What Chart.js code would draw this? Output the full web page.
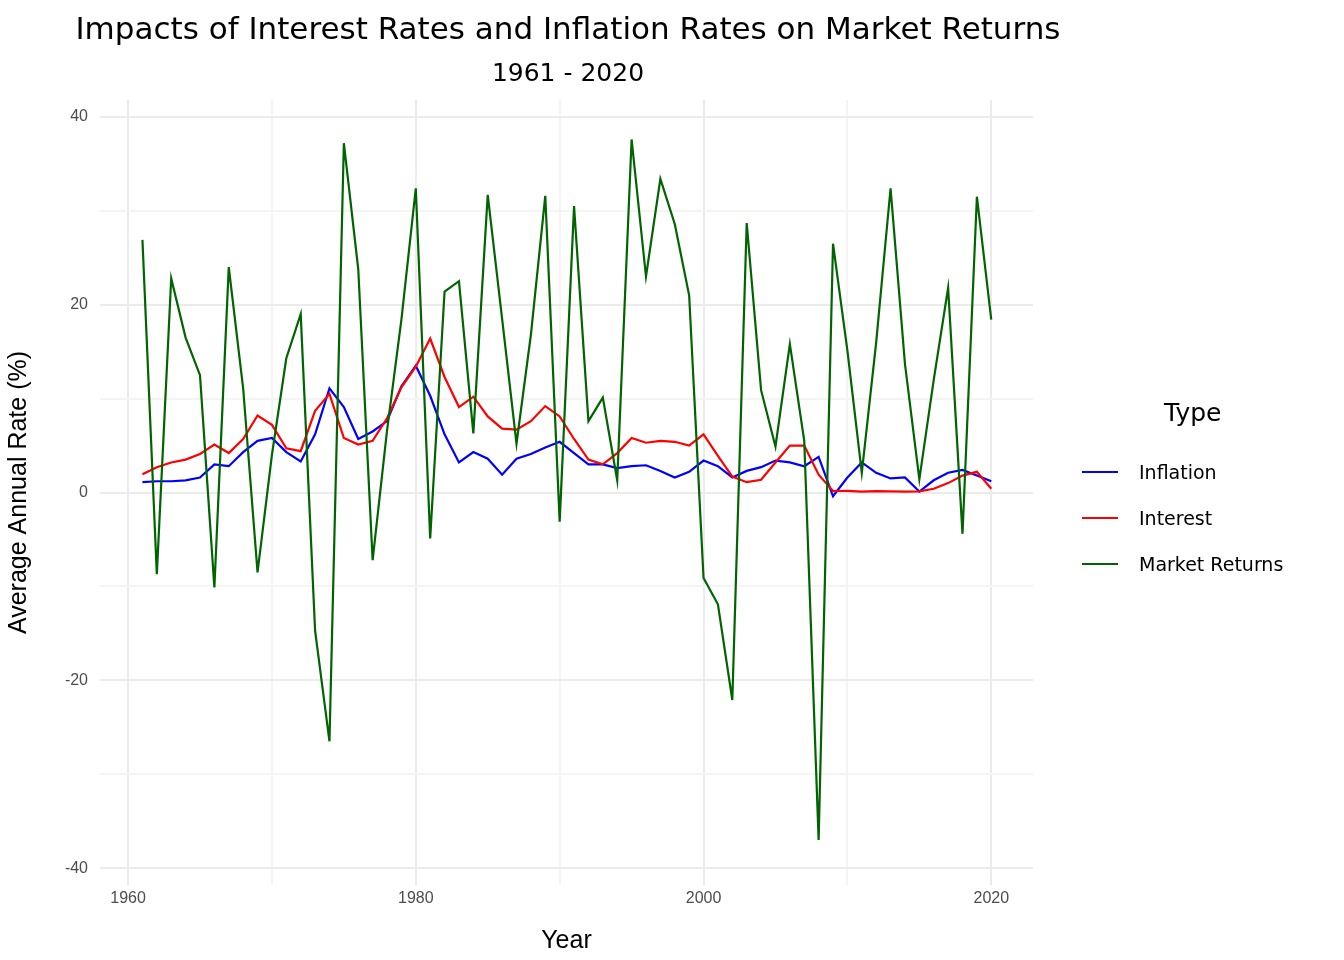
<!DOCTYPE html>
<html>
<head>
<meta charset="utf-8">
<script src="https://cdn.jsdelivr.net/npm/chart.js@4/dist/chart.umd.min.js"></script>
<style>
  body { margin: 0; background: #fff; font-family: "DejaVu Sans", sans-serif; }
  #wrap { position: relative; width: 1344px; height: 960px; }
  .t { position: absolute; left: 0; width: 1136px; text-align: center; color: #000; }
  #legend { position: absolute; left: 1082px; top: 398px; font-size: 19px; }
  #legend .ttl { font-size: 25px; margin-left: 82px; margin-bottom: 22px; }
  #legend .row { display: flex; align-items: center; height: 46px; }
  #legend .sw { width: 36px; height: 2.5px; margin-right: 21px; }
</style>
</head>
<body>
<div id="wrap">
  <canvas id="chart" width="1344" height="960"></canvas>
  <div class="t" style="top:10px;font-size:31px;">Impacts of Interest Rates and Inflation Rates on Market Returns</div>
  <div class="t" style="top:58px;font-size:25px;">1961 - 2020</div>
  <div id="legend">
    <div class="ttl">Type</div>
    <div class="row"><div class="sw" style="background:#0000ff"></div>Inflation</div>
    <div class="row"><div class="sw" style="background:#ff0000"></div>Interest</div>
    <div class="row"><div class="sw" style="background:#006400"></div>Market Returns</div>
  </div>
</div>
<script>
const years = [];
for (let y = 1961; y <= 2020; y++) years.push(y);

const inflation = [1.1,1.2,1.2,1.3,1.6,3.0,2.8,4.3,5.5,5.8,4.3,3.3,6.2,11.1,9.1,5.7,6.5,7.6,11.3,13.5,
  10.3,6.2,3.2,4.3,3.6,1.9,3.6,4.1,4.8,5.4,4.2,3.0,3.0,2.6,2.8,2.9,2.3,1.6,2.2,3.4,
  2.8,1.6,2.3,2.7,3.4,3.2,2.8,3.8,-0.4,1.6,3.2,2.1,1.5,1.6,0.1,1.3,2.1,2.4,1.8,1.2];

const interest = [1.95,2.7,3.2,3.5,4.1,5.1,4.2,5.7,8.2,7.2,4.7,4.4,8.7,10.5,5.8,5.1,5.5,7.9,11.2,13.4,
  16.4,12.3,9.1,10.2,8.1,6.8,6.7,7.6,9.2,8.1,5.7,3.5,3.0,4.2,5.8,5.3,5.5,5.4,5.0,6.2,
  3.9,1.7,1.1,1.35,3.2,5.0,5.0,1.9,0.16,0.18,0.1,0.14,0.11,0.09,0.13,0.4,1.0,1.8,2.2,0.4];

const marketReturns = [26.9,-8.7,22.8,16.5,12.5,-10.1,24.0,11.1,-8.5,4.0,14.3,19.0,-14.7,-26.5,37.2,23.8,-7.2,6.6,18.4,32.4,
  -4.9,21.4,22.5,6.3,31.7,18.5,5.2,16.8,31.6,-3.1,30.5,7.6,10.1,1.3,37.6,23.0,33.4,28.6,21.0,-9.1,
  -11.9,-22.1,28.7,10.9,4.9,15.8,5.5,-37.0,26.5,15.1,2.1,16.0,32.4,13.7,1.4,12.0,21.8,-4.4,31.5,18.4];

const pts = arr => arr.map((v, i) => ({ x: years[i], y: v }));
const line = (data, color) => ({ data: pts(data), borderColor: color, borderWidth: 2.2, pointRadius: 0, tension: 0, fill: false });

const gridColor = ctx => (ctx.tick && ctx.tick.value % 20 === 0) ? '#ebebeb' : '#f4f4f4';

new Chart(document.getElementById('chart'), {
  type: 'line',
  data: {
    datasets: [
      line(marketReturns, '#006400'),
      line(interest, '#ff0000'),
      line(inflation, '#0000ff')
    ]
  },
  options: {
    responsive: false,
    animation: false,
    layout: { padding: { top: 100, right: 311, left: 0, bottom: 0 } },
    plugins: { legend: { display: false }, tooltip: { enabled: false } },
    scales: {
      x: {
        type: 'linear', min: 1958.05, max: 2022.9,
        afterFit: s => { s.height = 75; },
        afterBuildTicks: s => { s.ticks = [1960,1970,1980,1990,2000,2010,2020].map(v => ({ value: v })); },
        ticks: { color: '#4d4d4d', font: { size: 16 }, padding: 4,
                 callback: v => v % 20 === 0 ? String(v) : '' },
        grid: { color: gridColor, lineWidth: 2, drawTicks: false },
        border: { display: false },
        title: { display: true, text: 'Year', color: '#000', font: { size: 25 }, padding: { top: 6 } }
      },
      y: {
        min: -41.8, max: 41.8,
        afterFit: s => { s.width = 100; },
        afterBuildTicks: s => { s.ticks = [-40,-30,-20,-10,0,10,20,30,40].map(v => ({ value: v })); },
        ticks: { color: '#4d4d4d', font: { size: 16 }, padding: 12,
                 callback: v => v % 20 === 0 ? String(v) : '' },
        grid: { color: gridColor, lineWidth: 2, drawTicks: false },
        border: { display: false },
        title: { display: true, text: 'Average Annual Rate (%)', color: '#000', font: { size: 25 }, padding: { bottom: 4 } }
      }
    }
  }
});
</script>
</body>
</html>
